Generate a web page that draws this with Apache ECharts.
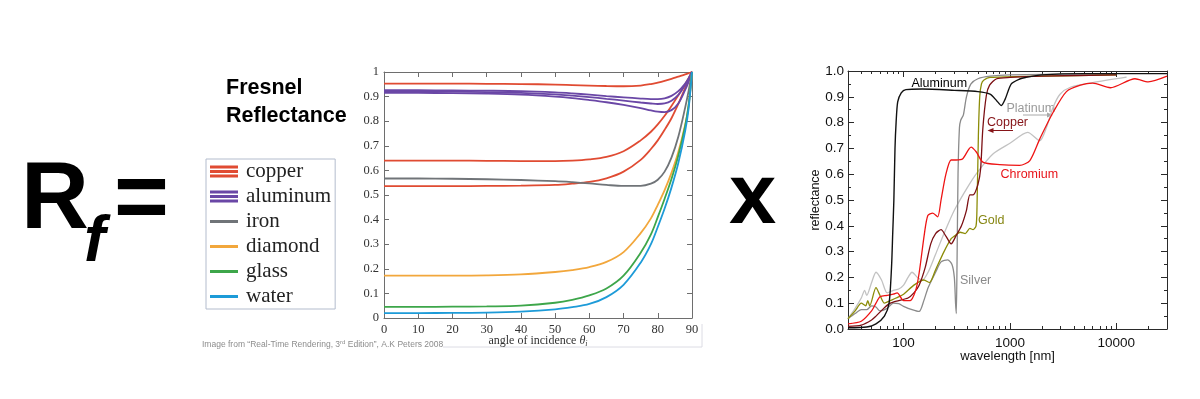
<!DOCTYPE html>
<html>
<head>
<meta charset="utf-8">
<title>Fresnel reflectance</title>
<script src="https://cdn.jsdelivr.net/npm/echarts@6/dist/echarts.min.js"></script>
<style>
  html, body { margin: 0; padding: 0; background: #fff; }
  #chart { width: 1200px; height: 399px; }
</style>
</head>
<body>
<div id="chart"></div>
<script>
// ---- left plot: Fresnel reflectance vs angle of incidence ----
const angles = [0, 10, 20, 30, 40, 50, 55, 60, 65, 70, 75, 78, 80, 82, 84, 86, 88, 89, 90];
const copper1 = [0.953, 0.953, 0.953, 0.952, 0.951, 0.949, 0.947, 0.945, 0.943, 0.942, 0.945, 0.951, 0.957, 0.964, 0.972, 0.981, 0.99, 0.995, 1];
const copper2 = [0.640, 0.640, 0.640, 0.639, 0.638, 0.638, 0.640, 0.645, 0.655, 0.678, 0.722, 0.757, 0.787, 0.822, 0.862, 0.905, 0.950, 0.975, 1];
const copper3 = [0.536, 0.536, 0.536, 0.537, 0.538, 0.541, 0.546, 0.553, 0.568, 0.595, 0.643, 0.687, 0.722, 0.765, 0.812, 0.870, 0.935, 0.967, 1];
const alu1 = [0.926, 0.926, 0.925, 0.924, 0.922, 0.917, 0.913, 0.908, 0.902, 0.897, 0.892, 0.890, 0.890, 0.893, 0.903, 0.922, 0.953, 0.974, 1];
const alu2 = [0.921, 0.921, 0.920, 0.918, 0.915, 0.909, 0.904, 0.898, 0.891, 0.884, 0.876, 0.872, 0.870, 0.872, 0.883, 0.907, 0.946, 0.971, 1];
const alu3 = [0.915, 0.915, 0.914, 0.912, 0.908, 0.900, 0.894, 0.886, 0.877, 0.866, 0.853, 0.844, 0.839, 0.837, 0.845, 0.872, 0.927, 0.960, 1];
const iron = [0.567, 0.567, 0.566, 0.564, 0.561, 0.556, 0.552, 0.547, 0.541, 0.537, 0.537, 0.546, 0.562, 0.595, 0.652, 0.737, 0.855, 0.922, 1];
const diamond = [0.172, 0.172, 0.172, 0.173, 0.177, 0.187, 0.195, 0.207, 0.228, 0.268, 0.345, 0.405, 0.460, 0.520, 0.590, 0.675, 0.785, 0.860, 1];
const glass = [0.045, 0.045, 0.046, 0.047, 0.050, 0.062, 0.074, 0.092, 0.120, 0.172, 0.265, 0.340, 0.410, 0.485, 0.565, 0.660, 0.780, 0.865, 1];
const water = [0.020, 0.020, 0.021, 0.022, 0.026, 0.035, 0.044, 0.057, 0.085, 0.135, 0.225, 0.300, 0.370, 0.445, 0.530, 0.630, 0.760, 0.850, 1];

// ---- right plot: reflectance vs wavelength (log axis) ----
const nmAluminum = [30, 45, 55, 66, 73, 77, 79, 81, 83, 85, 88, 95, 105, 150, 300, 500, 650, 750, 830, 900, 1030, 1235, 1400, 2000, 5000, 30000];
const rAluminum = [0.005, 0.008, 0.02, 0.05, 0.1, 0.24, 0.37, 0.5, 0.7, 0.8, 0.88, 0.915, 0.928, 0.93, 0.925, 0.92, 0.91, 0.885, 0.866, 0.89, 0.95, 0.969, 0.975, 0.985, 0.99, 0.99];
const nmSilver = [30, 35, 40, 45, 50, 55, 60, 70, 80, 90, 100, 120, 140, 155, 170, 200, 225, 260, 285, 300, 308, 313, 318, 325, 335, 345, 365, 390, 430, 500, 650, 1000, 10000];
const rSilver = [0.04, 0.06, 0.075, 0.075, 0.09, 0.085, 0.07, 0.08, 0.1, 0.098, 0.088, 0.075, 0.068, 0.11, 0.16, 0.22, 0.26, 0.268, 0.25, 0.2, 0.1, 0.06, 0.25, 0.6, 0.78, 0.81, 0.83, 0.9, 0.95, 0.97, 0.98, 0.985, 0.99];
const nmPlatinum = [30, 35, 40, 43, 45, 50, 55, 62, 70, 80, 90, 100, 110, 120, 135, 150, 170, 200, 240, 300, 400, 500, 700, 1000, 1470, 1910, 2200, 2550, 2960, 3700, 6000, 12500];
const rPlatinum = [0.04, 0.08, 0.12, 0.15, 0.13, 0.18, 0.22, 0.19, 0.14, 0.15, 0.155, 0.17, 0.2, 0.22, 0.2, 0.19, 0.22, 0.29, 0.37, 0.46, 0.55, 0.61, 0.68, 0.72, 0.762, 0.73, 0.78, 0.86, 0.91, 0.937, 0.955, 0.976];
const nmChromium = [30, 40, 50, 55, 60, 70, 80, 87, 100, 115, 130, 140, 157, 169, 188, 209, 225, 250, 280, 312, 360, 431, 483, 556, 800, 1235, 1540, 1910, 2550, 3400, 4600, 6000, 8800, 15000, 20000, 30000];
const rChromium = [0.02, 0.03, 0.07, 0.1, 0.125, 0.13, 0.135, 0.14, 0.11, 0.11, 0.15, 0.217, 0.37, 0.44, 0.449, 0.435, 0.5, 0.6, 0.655, 0.655, 0.66, 0.705, 0.686, 0.647, 0.637, 0.634, 0.653, 0.737, 0.84, 0.92, 0.945, 0.953, 0.935, 0.97, 0.958, 0.98];
const nmCopper = [30, 40, 50, 55, 65, 75, 90, 110, 125, 140, 160, 180, 200, 225, 250, 280, 310, 350, 390, 420, 450, 500, 530, 556, 600, 644, 750, 1000, 2000, 10000];
const rCopper = [0.01, 0.015, 0.035, 0.05, 0.08, 0.1, 0.11, 0.12, 0.14, 0.17, 0.24, 0.33, 0.37, 0.385, 0.36, 0.33, 0.36, 0.4, 0.46, 0.52, 0.52, 0.56, 0.62, 0.776, 0.905, 0.945, 0.97, 0.975, 0.98, 0.985];
const nmGold = [30, 35, 40, 44, 46, 48, 55, 60, 66, 75, 85, 100, 125, 155, 175, 200, 240, 280, 300, 340, 380, 420, 450, 480, 490, 505, 520, 540, 570, 650, 2000, 10000];
const rGold = [0.04, 0.07, 0.1, 0.09, 0.11, 0.09, 0.16, 0.13, 0.1, 0.11, 0.12, 0.135, 0.17, 0.19, 0.18, 0.23, 0.3, 0.35, 0.36, 0.375, 0.37, 0.39, 0.385, 0.4, 0.47, 0.75, 0.9, 0.95, 0.965, 0.975, 0.98, 0.985];

const majorNm = [100, 1000, 10000];
const minorNm = [40, 50, 60, 70, 80, 90, 200, 300, 400, 500, 600, 700, 800, 900,
                 2000, 3000, 4000, 5000, 6000, 7000, 8000, 9000, 20000];

const SERIF = 'Liberation Serif';
const SANS = 'Liberation Sans';

const pairs = (xs, ys) => xs.map((x, i) => [x, ys[i]]);

// legend glyphs: three stacked bars for the metals with several curves, one bar otherwise
const triple = 'path://M0,0H28V3H0Z M0,4.5H28V7.5H0Z M0,9H28V12H0Z';
const single = 'path://M0,0H28V3H0Z';

function fresnelLine(name, values, color) {
    return {
        name: name, type: 'line', xAxisIndex: 0, yAxisIndex: 0,
        data: pairs(angles, values),
        smooth: 0.35, showSymbol: false, silent: true,
        itemStyle: { color: color },
        lineStyle: { color: color, width: 1.8 }
    };
}
function spectrumLine(name, nm, r, color, width) {
    return {
        name: name, type: 'line', xAxisIndex: 2, yAxisIndex: 2,
        data: pairs(nm, r),
        smooth: 0.25, showSymbol: false, silent: true,
        itemStyle: { color: color },
        lineStyle: { color: color, width: width || 1.3 }
    };
}

const gridAxisLeft = '#6e6e6e';
const gridAxisRight = '#2a2a2a';

function frame(grid, pos, color, extra) {
    return Object.assign({
        gridIndex: grid, position: pos,
        axisLine: { onZero: false, lineStyle: { color: color, width: 1 } },
        splitLine: { show: false }
    }, extra);
}

const leftX = { type: 'value', min: 0, max: 90, interval: 10,
    axisTick: { inside: true, length: 5, lineStyle: { color: gridAxisLeft } } };
const leftY = { type: 'value', min: 0, max: 1, interval: 0.1,
    axisTick: { inside: true, length: 5, lineStyle: { color: gridAxisLeft } } };

const logX = { type: 'log', logBase: 10, min: 30, max: 30000 };
const rightY = { type: 'value', min: 0, max: 1, interval: 0.1,
    axisTick: { inside: true, length: 6, lineStyle: { color: gridAxisRight } },
    minorTick: { show: true, splitNumber: 2, length: 3, lineStyle: { color: gridAxisRight } } };

const chart = echarts.init(document.getElementById('chart'), null, { renderer: 'canvas' });

chart.setOption({
    animation: false,
    backgroundColor: '#fff',
    grid: [
        { left: 384, top: 72, width: 308, height: 246 },
        { left: 848, top: 71, width: 319, height: 258 }
    ],
    legend: {
        left: 206, top: 159, orient: 'vertical', align: 'left',
        backgroundColor: '#fff', borderColor: '#b3bccd', borderWidth: 1,
        padding: [2, 4, 2, 4], itemGap: 4, itemWidth: 28, itemHeight: 12,
        itemStyle: { borderWidth: 0 },
        textStyle: { fontFamily: SERIF, fontSize: 21, color: '#222', padding: [0, 0, 0, 3] },
        selectedMode: false,
        data: [
            { name: 'copper', icon: triple },
            { name: 'aluminum', icon: triple },
            { name: 'iron', icon: single },
            { name: 'diamond', icon: single },
            { name: 'glass', icon: single },
            { name: 'water', icon: single }
        ]
    },
    xAxis: [
        frame(0, 'bottom', gridAxisLeft, Object.assign({}, leftX, {
            axisLabel: { color: '#333', fontFamily: SERIF, fontSize: 12.5, margin: 5 },
            name: '{n|angle of incidence }{t|θ}{s|i}', nameLocation: 'middle', nameGap: 16,
            nameMoveOverlap: false,
            nameTextStyle: { color: '#333', fontFamily: SERIF, fontSize: 12,
                rich: { n: { fontFamily: SERIF, fontSize: 12, color: '#333' },
                        t: { fontFamily: SERIF, fontSize: 12, fontStyle: 'italic', color: '#333' },
                        s: { fontFamily: SERIF, fontSize: 8, fontStyle: 'italic', color: '#333', padding: [6, 0, 0, 0] } } }
        })),
        frame(0, 'top', gridAxisLeft, Object.assign({}, leftX, { axisLabel: { show: false } })),
        frame(1, 'bottom', gridAxisRight, Object.assign({}, logX, {
            axisTick: { inside: true, length: 6, customValues: majorNm, lineStyle: { color: gridAxisRight } },
            axisLabel: { customValues: majorNm, color: '#111', fontFamily: SANS, fontSize: 13.5, margin: 7,
                         formatter: v => String(Math.round(v)) },
            name: 'wavelength [nm]', nameLocation: 'middle', nameGap: 21, nameMoveOverlap: false,
            nameTextStyle: { color: '#111', fontFamily: SANS, fontSize: 13 }
        })),
        frame(1, 'bottom', gridAxisRight, Object.assign({}, logX, {
            axisLine: { show: false, onZero: false },
            axisTick: { inside: true, length: 3, customValues: minorNm, lineStyle: { color: gridAxisRight } },
            axisLabel: { show: false }
        })),
        frame(1, 'top', gridAxisRight, Object.assign({}, logX, {
            axisTick: { inside: true, length: 6, customValues: majorNm, lineStyle: { color: gridAxisRight } },
            axisLabel: { show: false }
        })),
        frame(1, 'top', gridAxisRight, Object.assign({}, logX, {
            axisLine: { show: false, onZero: false },
            axisTick: { inside: true, length: 3, customValues: minorNm, lineStyle: { color: gridAxisRight } },
            axisLabel: { show: false }
        }))
    ],
    yAxis: [
        frame(0, 'left', gridAxisLeft, Object.assign({}, leftY, {
            axisLabel: { color: '#333', fontFamily: SERIF, fontSize: 12.5, margin: 5 }
        })),
        frame(0, 'right', gridAxisLeft, Object.assign({}, leftY, { axisLabel: { show: false } })),
        frame(1, 'left', gridAxisRight, Object.assign({}, rightY, {
            axisLabel: { color: '#111', fontFamily: SANS, fontSize: 13.5, margin: 4,
                         formatter: v => v.toFixed(1) },
            name: 'reflectance', nameLocation: 'middle', nameGap: 26, nameMoveOverlap: false,
            nameTextStyle: { color: '#111', fontFamily: SANS, fontSize: 12.5 }
        })),
        frame(1, 'right', gridAxisRight, Object.assign({}, rightY, { axisLabel: { show: false } }))
    ],
    series: [
        fresnelLine('copper', copper1, '#e04b32'),
        fresnelLine('copper', copper2, '#e04b32'),
        fresnelLine('copper', copper3, '#e04b32'),
        fresnelLine('aluminum', alu1, '#6a47a6'),
        fresnelLine('aluminum', alu2, '#6a47a6'),
        fresnelLine('aluminum', alu3, '#6a47a6'),
        fresnelLine('iron', iron, '#707478'),
        fresnelLine('diamond', diamond, '#f2a73c'),
        fresnelLine('glass', glass, '#3da64a'),
        fresnelLine('water', water, '#1d9bd8'),

        spectrumLine('Platinum', nmPlatinum, rPlatinum, '#c2c2c2'),
        spectrumLine('Silver', nmSilver, rSilver, '#8a8a8a'),
        spectrumLine('Gold', nmGold, rGold, '#8c8c08'),
        spectrumLine('Copper', nmCopper, rCopper, '#7c1014'),
        spectrumLine('Chromium', nmChromium, rChromium, '#ee1414'),
        spectrumLine('Aluminum', nmAluminum, rAluminum, '#111111', 1.4)
    ],
    graphic: [
        // equation pieces
        { type: 'text', x: 21, y: 202, style: { text: 'R', font: 'bold 94px "Liberation Sans"', fill: '#000', verticalAlign: 'middle' } },
        { type: 'text', x: 84, y: 243, style: { text: 'f', font: 'italic bold 64px "Liberation Sans"', fill: '#000', verticalAlign: 'middle' } },
        { type: 'text', x: 114, y: 202, style: { text: '=', font: 'bold 94px "Liberation Sans"', fill: '#000', verticalAlign: 'middle' } },
        { type: 'text', x: 729, y: 200, style: { text: 'x', font: 'bold 85px "Liberation Sans"', fill: '#000', verticalAlign: 'middle' } },

        // left plot title and credit
        { type: 'text', x: 226, y: 88.5, style: { text: 'Fresnel', font: 'bold 21.5px "Liberation Sans"', fill: '#000', verticalAlign: 'middle' } },
        { type: 'text', x: 226, y: 116, style: { text: 'Reflectance', font: 'bold 21.5px "Liberation Sans"', fill: '#000', verticalAlign: 'middle' } },
        { type: 'text', x: 202, y: 345, style: {
            text: '{a|Image from “Real-Time Rendering, 3}{s|rd}{a| Edition”, A.K Peters 2008}',
            verticalAlign: 'middle',
            rich: { a: { fontFamily: SANS, fontSize: 8.5, fill: '#8c8c8c' },
                    s: { fontFamily: SANS, fontSize: 6, fill: '#8c8c8c', padding: [0, 0, 5, 0] } } } },
        { type: 'line', shape: { x1: 443, y1: 347, x2: 702, y2: 347 }, style: { stroke: '#dcdce4', lineWidth: 1 } },
        { type: 'line', shape: { x1: 702, y1: 324, x2: 702, y2: 347 }, style: { stroke: '#dcdce4', lineWidth: 1 } },

        // right plot curve labels
        { type: 'text', x: 911.5, y: 83.5, style: { text: 'Aluminum', font: '12.5px "Liberation Sans"', fill: '#000', verticalAlign: 'middle' } },
        { type: 'text', x: 1006.5, y: 108.5, style: { text: 'Platinum', font: '12.5px "Liberation Sans"', fill: '#9a9a9a', verticalAlign: 'middle' } },
        { type: 'text', x: 987, y: 122.5, style: { text: 'Copper', font: '12.5px "Liberation Sans"', fill: '#861418', verticalAlign: 'middle' } },
        { type: 'text', x: 1000.5, y: 174.5, style: { text: 'Chromium', font: '12.5px "Liberation Sans"', fill: '#e8141a', verticalAlign: 'middle' } },
        { type: 'text', x: 978, y: 221, style: { text: 'Gold', font: '12.5px "Liberation Sans"', fill: '#868612', verticalAlign: 'middle' } },
        { type: 'text', x: 960, y: 281, style: { text: 'Silver', font: '12.5px "Liberation Sans"', fill: '#8a8a8a', verticalAlign: 'middle' } },

        // small arrows next to Platinum and Copper
        { type: 'line', shape: { x1: 1023, y1: 115, x2: 1049, y2: 115 }, style: { stroke: '#a8a8a8', lineWidth: 1 } },
        { type: 'polygon', shape: { points: [[1053, 115], [1047, 112.5], [1047, 117.5]] }, style: { fill: '#a8a8a8' } },
        { type: 'line', shape: { x1: 1013, y1: 130.5, x2: 991, y2: 130.5 }, style: { stroke: '#861418', lineWidth: 1 } },
        { type: 'polygon', shape: { points: [[987.5, 130.5], [993.5, 128], [993.5, 133]] }, style: { fill: '#861418' } }
    ]
});
</script>
</body>
</html>
